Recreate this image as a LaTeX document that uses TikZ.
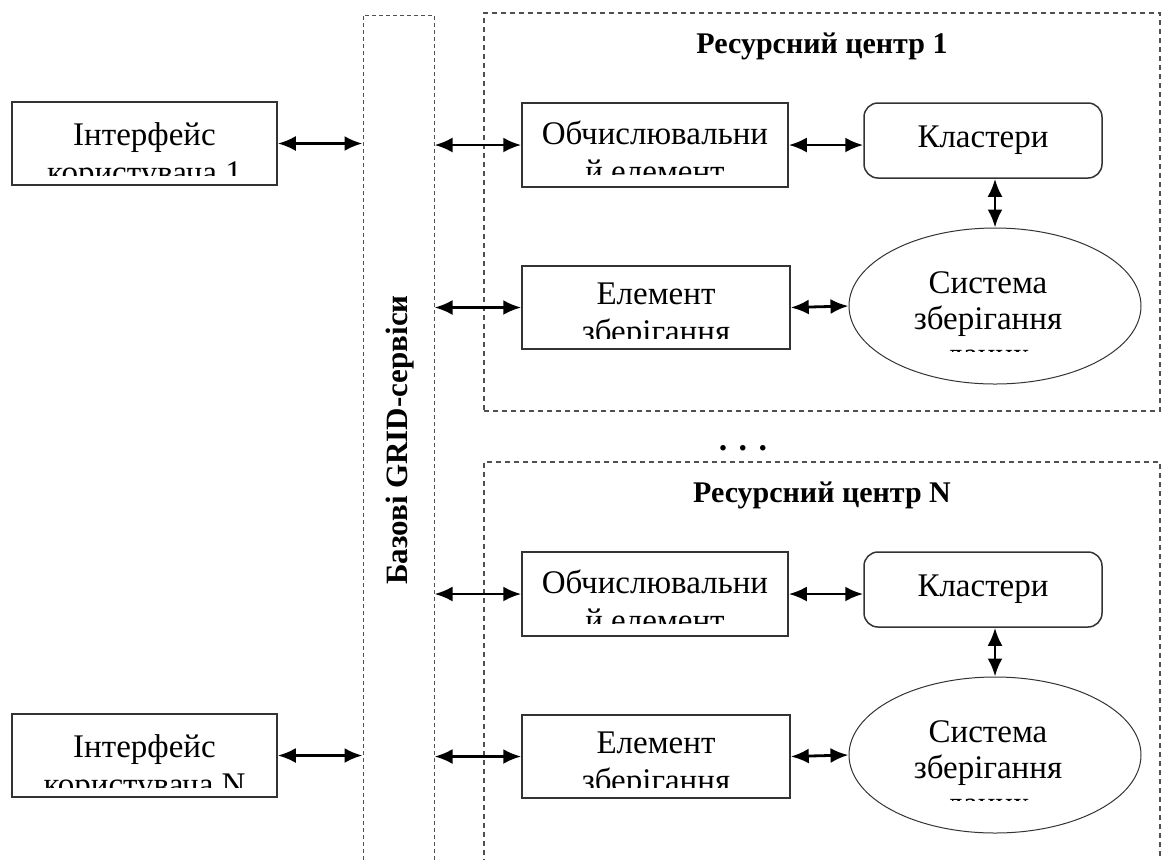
\documentclass[tikz,border=0pt]{standalone}
\usepackage{fontspec}
\setmainfont{Liberation Serif}
\usetikzlibrary{positioning,arrows.meta,shapes.geometric}
\definecolor{frame}{HTML}{333333}
\definecolor{dashgray}{HTML}{505050}

\tikzset{
  box/.style={draw=frame,line width=0.75pt,inner sep=0pt},
  rbox/.style={box,rounded corners=7pt,font=\fontsize{16.5}{19}\selectfont},
  oval/.style={ellipse,draw=frame,line width=0.5pt,inner sep=0pt},
  area/.style={draw=dashgray,line width=0.8pt,dash pattern=on 2.5pt off 2pt,inner sep=0pt},
  txt/.style={align=center,inner sep=0pt,font=\fontsize{16.5}{19}\selectfont},
  head/.style={inner sep=0pt,font=\fontsize{15}{18}\selectfont\bfseries},
  link/.style={{Latex[length=9pt,width=7.5pt]}-{Latex[length=9pt,width=7.5pt]},line width=1.4pt},
  cut/.style={fill=white},
}

\begin{document}
\begin{tikzpicture}[x=0.5pt,y=-0.5pt]
        \clip (0,0) rectangle (1164,859);
        % base services column
        \node[area,line width=0.5pt,dash pattern=on 2pt off 1.5pt,minimum width=35.5pt,minimum height=432.5pt] (grid) at (398.5,447.5) {};
        \node[inner sep=0pt,rotate=90,font=\fontsize{15.5}{18}\selectfont\bfseries] (gridt) at (400,440) {Базові GRID-сервіси};
        % user interfaces (text is cut off by the box, as in the source)
        \foreach \n/\dy in {1/0,N/612}{
          \node[txt,anchor=north] (if\n t) at (144.5,122+\dy) {Інтерфейс\\користувача \n};
          \fill[cut] (20,176+\dy) rectangle (270,200+\dy);
          \node[box,minimum width=132.5pt,minimum height=41.5pt] (if\n) at (144.5,143.5+\dy) {};
          \draw[link] (if\n.east) -- (if\n.east -| grid.west);
        }
        % resource centres
        \foreach \n/\dy in {1/0,N/449}{
          \node[area,minimum width=338pt,minimum height={199pt+\dy*0.045pt}] (rc\n) at (822,212+\dy*1.045) {};
          \node[head,anchor=base] (rc\n t) at (822,53+\dy) {Ресурсний центр \n};
          \node[txt,anchor=north] (ob\n t) at (655,120+\dy) {Обчислювальни\\й елемент};
          \node[txt,anchor=north] (el\n t) at (656,282+\dy) {Елемент\\зберігання};
          \node[txt,anchor=north,font=\fontsize{16.5}{18}\selectfont] (sy\n t) at (988,271+\dy) {Система\\зберігання\\даних};
          \fill[cut] (528,175+\dy) rectangle (782,200+\dy);
          \fill[cut] (528,339+\dy) rectangle (784,362+\dy);
          \fill[cut] (945,352+\dy) rectangle (1045,376+\dy);
          \node[box,minimum width=133pt,minimum height=42pt] (ob\n) at (655,145+\dy) {};
          \node[rbox,minimum width=119pt,minimum height=37.5pt] (kl\n) at (983,140.5+\dy) {Кластери};
          \node[box,minimum width=134pt,minimum height=41.5pt] (el\n) at (656,307.5+\dy) {};
          \node[oval,minimum width=146pt,minimum height=78pt] (sy\n) at (995,306+\dy) {};
          \draw[link] (grid.east |- ob\n.west) -- (ob\n.west);
          \draw[link] (ob\n.east) -- (ob\n.east -| kl\n.west);
          \draw[link] (sy\n.north |- kl\n.south) -- (sy\n.north);
          \draw[link] (grid.east |- el\n.west) -- (el\n.west);
          \draw[link] (el\n.east) -- (sy\n.west);
        }
        \node[head,anchor=base,font=\fontsize{17}{18}\selectfont\bfseries] (dots) at (743,450) {. . .};
\end{tikzpicture}
\end{document}
